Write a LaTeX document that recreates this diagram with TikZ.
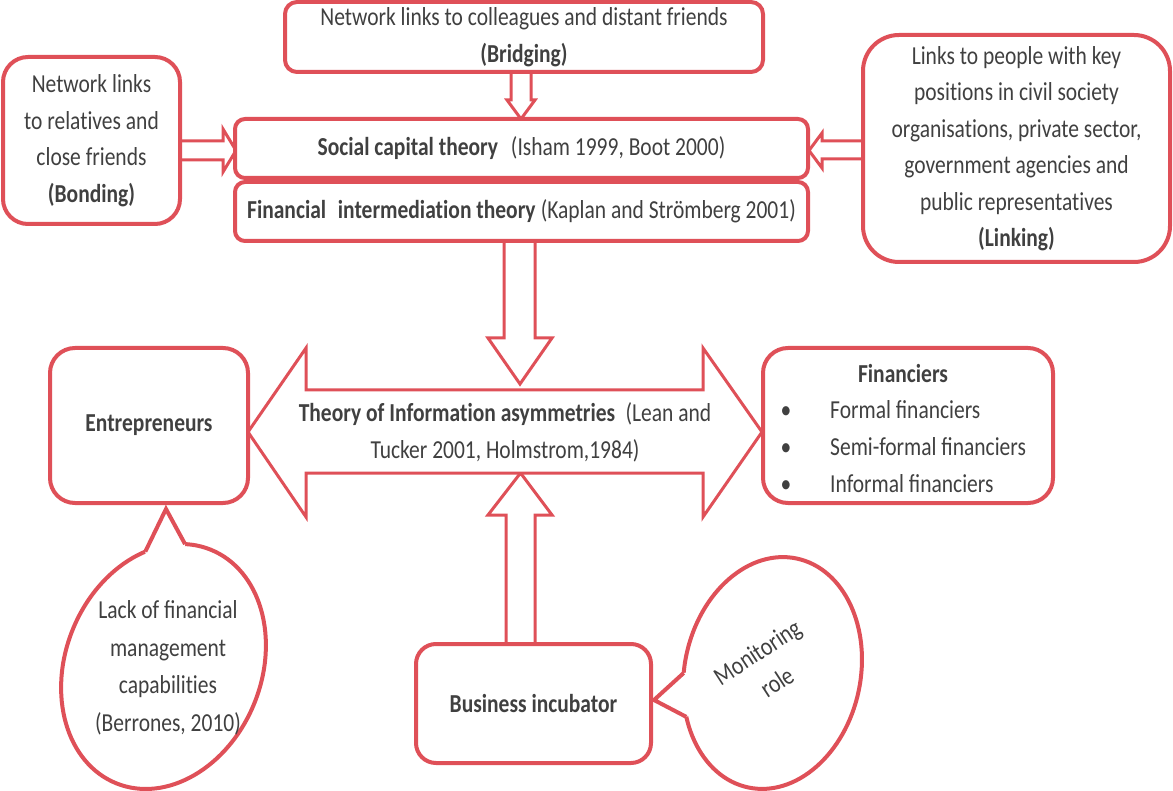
\documentclass[tikz,border=0pt]{standalone}
\usepackage{fontspec}
\setmainfont{Carlito}[FakeStretch=0.83]
\usetikzlibrary{shapes.geometric}
\definecolor{fr}{RGB}{223,80,88}
\definecolor{ink}{RGB}{64,64,64}
% "ti" written without the font's ligature
\newcommand\nti{t\kern0pt i}
\begin{document}
\begin{tikzpicture}[x=1pt,y=-1pt,
  every node/.style={text=ink, font=\fontsize{25.9pt}{36.5pt}\selectfont, inner sep=0pt},
  box/.style={draw=fr, line width=4pt, fill=white, align=center},
  blockarrow/.style={draw=fr, line width=3pt, fill=white, line join=miter},
  bubble/.style={ellipse, draw=fr, line width=4pt, fill=white, inner sep=0pt, outer sep=0pt},
  pointer/.style={draw=fr, line width=4pt, line join=miter}]
\useasboundingbox (0,0) rectangle (1173,791);

% ---- block arrows (drawn first, boxes sit on top of their ends) ----
\draw[blockarrow] (511,72) -- (511,100) -- (507,100) -- (521,119) -- (535,100) -- (531,100) -- (531,72);
\draw[blockarrow] (180,141) -- (223,141) -- (223,129) -- (236,150.5) -- (223,172) -- (223,160) -- (180,160);
\draw[blockarrow] (863,141) -- (822,141) -- (822,133) -- (809,150.5) -- (822,168) -- (822,159) -- (863,159);
\draw[blockarrow] (504,241) -- (504,338) -- (488,338) -- (520,384) -- (552,338) -- (535,338) -- (535,241);
\draw[blockarrow] (506,645) -- (506,515) -- (488,515) -- (520.5,473) -- (552,515) -- (535,515) -- (535,645);
\draw[blockarrow] (248,432) -- (306,348) -- (306,390) -- (703,390) -- (703,348) -- (762,432)
  -- (703,517) -- (703,473) -- (306,473) -- (306,517) -- cycle;

% ---- boxes ----
\node[box, rounded corners=12pt, minimum width=478, minimum height=70] (bridge) at (524,37)
  {Network links to colleagues and distant friends\\\textbf{(Bridging)}};
\node[box, rounded corners=25pt, minimum width=177, minimum height=167] (bond) at (91.5,140.5)
  {Network links\\to rela\nti ves and\\close friends\\\textbf{(Bonding)}};
\node[box, rounded corners=10pt, minimum width=573, minimum height=59] (social) at (521.5,148.5)
  {\textbf{Social capital theory}\hspace{0.5em}(Isham 1999, Boot 2000)};
\node[box, rounded corners=10pt, minimum width=573, minimum height=59] (finint) at (521.5,211.5)
  {\textbf{Financial\hspace{0.45em}intermedia\nti on theory}\hspace{0.2em}(Kaplan and Strömberg 2001)};
\node[box, rounded corners=36pt, minimum width=307, minimum height=227] (link) at (1016.5,148.5)
  {Links to people with key\\posi\nti ons in civil society\\organisa\nti ons, private sector,\\government agencies and\\public representa\nti ves\\\textbf{(Linking)}};
\node[box, rounded corners=25pt, minimum width=198, minimum height=155] (entre) at (149,425.5)
  {\textbf{Entrepreneurs}};
\node[box, rounded corners=25pt, minimum width=290, minimum height=155] (fin) at (908,425.5) {};
\node[box, rounded corners=20pt, minimum width=235, minimum height=119] (incub) at (533.5,703.5)
  {\textbf{Business incubator}};

% ---- financiers list ----
\node[anchor=base] (fhead) at (903,383) {\textbf{Financiers}};
\node[anchor=base] (fb1) at (786,419) {•};
\node[anchor=base] (fb2) at (786,456) {•};
\node[anchor=base] (fb3) at (786,493) {•};
\node[anchor=base west] (fi1) at (830,419) {Formal financiers};
\node[anchor=base west] (fi2) at (830,456) {Semi-formal financiers};
\node[anchor=base west] (fi3) at (830,493) {Informal financiers};

% ---- theory label on the double arrow ----
\node[align=center, font=\fontsize{25.9pt}{37pt}\selectfont] (theory) at (505,432)
  {\textbf{Theory of Informa\nti on asymmetries}\hspace{0.4em}(Lean and\\Tucker 2001, Holmstrom,1984)};

% ---- callouts ----
\node[bubble, minimum width=196, minimum height=252, rotate=-22] (lack) at (163.5,666.5) {};
\coordinate (lacktip) at (166,509);
\fill[white] (lack.121) -- (lacktip) -- (lack.102) -- (lack.center) -- cycle;
\draw[pointer] (lack.121) -- (lacktip) -- (lack.102);

\node[bubble, minimum width=176, minimum height=234, rotate=-12] (mon) at (772.5,673) {};
\coordinate (montip) at (654,700);
\fill[white] (mon.192) -- (montip) -- (mon.219) -- (mon.center) -- cycle;
\draw[pointer] (mon.192) -- (montip) -- (mon.219);

\node[align=center, font=\fontsize{25.9pt}{37.5pt}\selectfont] (lacktext) at (168,668)
  {Lack of financial\\management\\capabili\nti es\\(Berrones, 2010)};
\node[align=center, rotate=33, font=\fontsize{25.9pt}{36pt}\selectfont] (montext) at (767,667)
  {Monitoring\\role};
\end{tikzpicture}
\end{document}
